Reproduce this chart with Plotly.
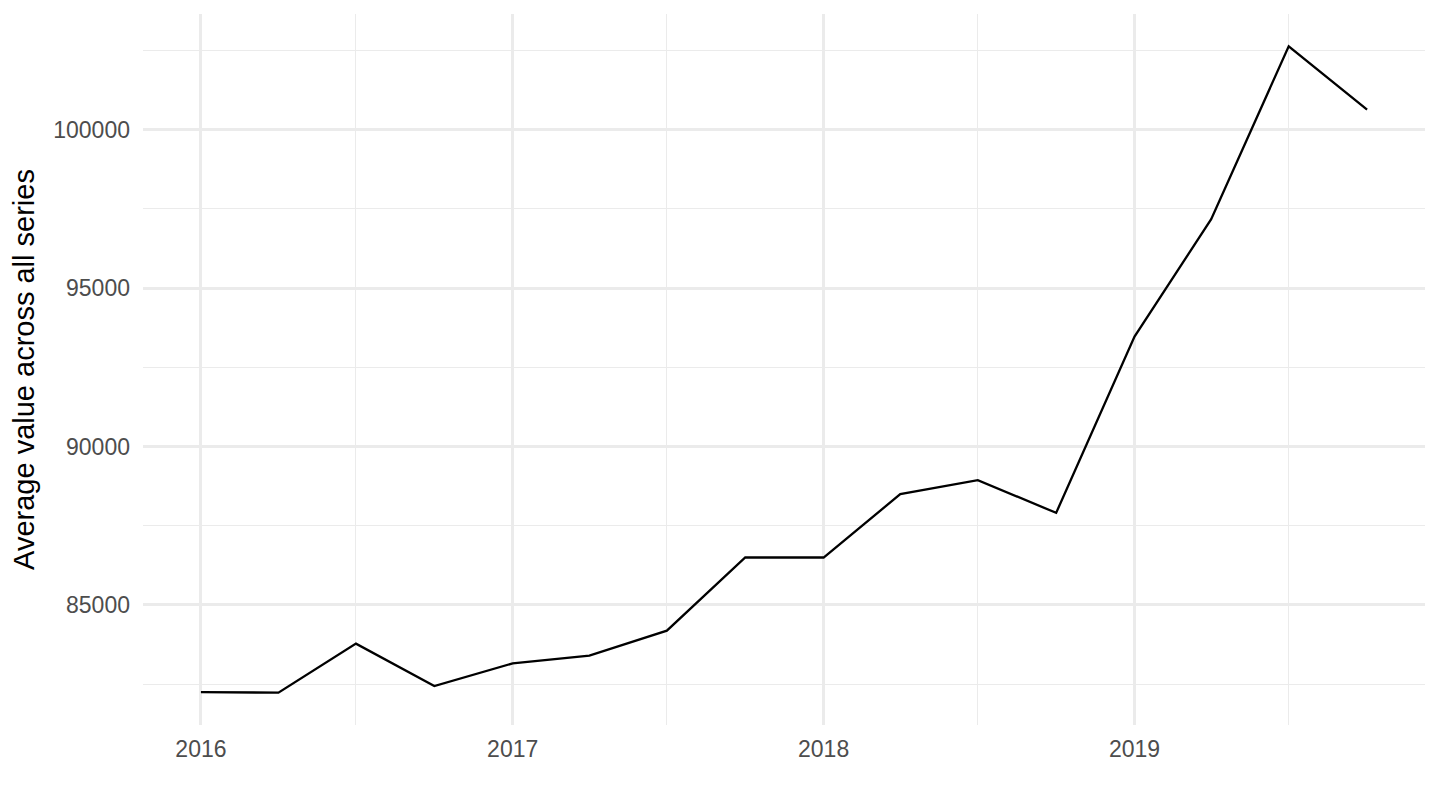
import plotly.graph_objects as go

quarters = ["2016-01-01", "2016-04-01", "2016-07-01", "2016-10-01",
            "2017-01-01", "2017-04-01", "2017-07-01", "2017-10-01",
            "2018-01-01", "2018-04-01", "2018-07-01", "2018-10-01",
            "2019-01-01", "2019-04-01", "2019-07-01", "2019-10-01"]
avg_values = [82251, 82232, 83780, 82441,
              83158, 83401, 84191, 86498,
              86498, 88498, 88940, 87907,
              93469, 97178, 102632, 100632]
x_tick_labels = ["2016", "2017", "2018", "2019"]
x_tick_vals = ["2016-01-01", "2017-01-01", "2018-01-01", "2019-01-01"]
y_tick_vals = [85000, 90000, 95000, 100000]
y_title = "Average value across all series"

FONT = "Liberation Sans, Arial, sans-serif"
GRID = "#EBEBEB"

fig = go.Figure()
fig.add_trace(go.Scatter(x=quarters, y=avg_values, mode="lines",
                         line=dict(color="black", width=2.3),
                         showlegend=False, hoverinfo="x+y"))

fig.update_layout(
    width=1424, height=794,
    margin=dict(l=135, r=7, t=6, b=77, autoexpand=False),
    paper_bgcolor="white", plot_bgcolor="white",
    font=dict(family=FONT, color="#4D4D4D", size=23),
)

fig.update_xaxes(
    type="date",
    range=["2015-10-25", "2019-12-08"],
    tickmode="array", tickvals=x_tick_vals, ticktext=x_tick_labels,
    showgrid=True, gridcolor=GRID, gridwidth=2.5,
    minor=dict(showgrid=True, gridcolor=GRID, gridwidth=1.3,
               tickmode="array",
               tickvals=["2015-07-01", "2016-07-01", "2017-07-01", "2018-07-01", "2019-07-01"]),
    zeroline=False, showline=False, ticks="",
    ticklabelstandoff=8,
    tickfont=dict(family=FONT, size=23, color="#4D4D4D"),
)

fig.update_yaxes(
    range=[81212, 103652],
    tickmode="array", tickvals=y_tick_vals,
    ticktext=[str(v) for v in y_tick_vals],
    showgrid=True, gridcolor=GRID, gridwidth=2.5,
    minor=dict(showgrid=True, gridcolor=GRID, gridwidth=1.3,
               tickmode="array", tickvals=[82500, 87500, 92500, 97500, 102500]),
    zeroline=False, showline=False, ticks="",
    ticklabelstandoff=12,
    tickfont=dict(family=FONT, size=23, color="#4D4D4D"),
    title=dict(text=y_title, font=dict(family=FONT, size=29, color="black"), standoff=14),
)

fig.write_html("out.html")
